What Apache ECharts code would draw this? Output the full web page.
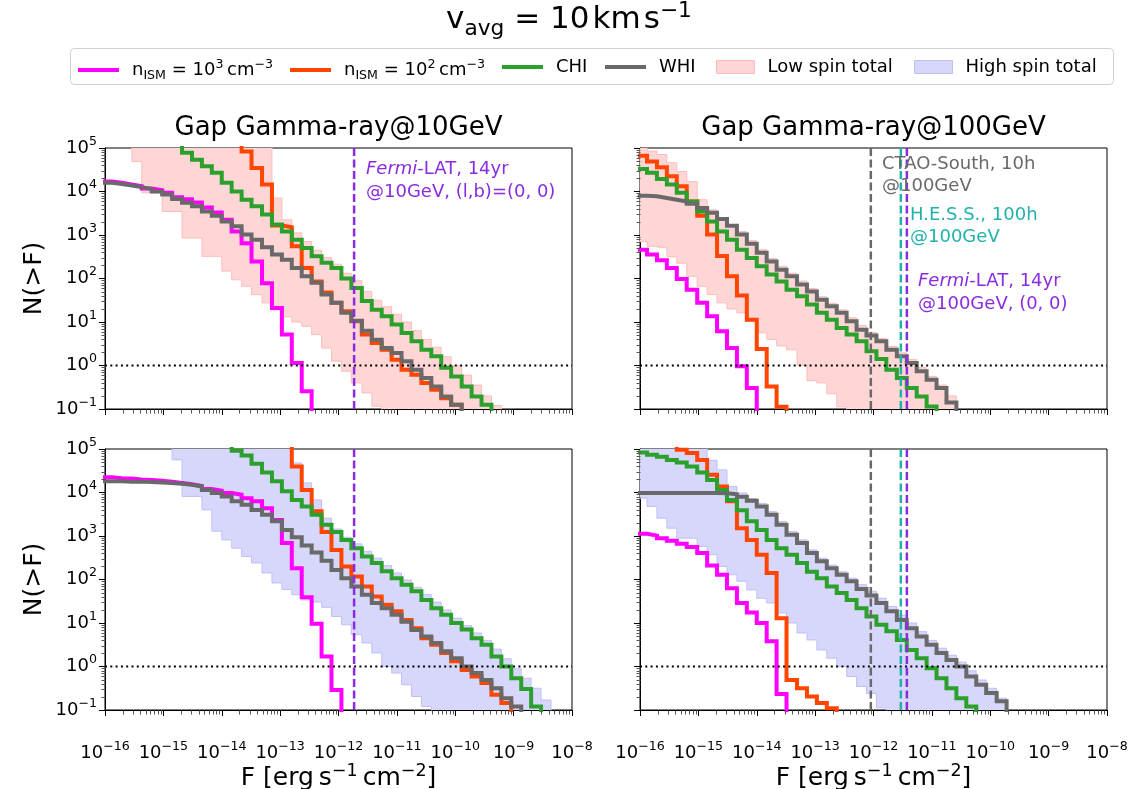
<!DOCTYPE html>
<html>
<head>
<meta charset="utf-8">
<title>Gap gamma-ray source counts</title>
<script src="https://cdn.jsdelivr.net/npm/echarts@6.0.0/dist/echarts.min.js"></script>
<style>
  html, body { margin: 0; padding: 0; background: #fff; }
  #chart { width: 1135px; height: 789px; }
</style>
</head>
<body>
<div id="chart"></div>
<script>
// log10 N(>F) levels used where a curve runs above / below the frame
const TOP = 6
const BOT = -2

// lower edge of every flux bin, log10 F [erg s^-1 cm^-2]
const FLUX_BIN_EXP = [-16.05, -15.88, -15.71, -15.54, -15.37, -15.20, -15.02, -14.85, -14.68, -14.51,
  -14.34, -14.17, -14.00, -13.83, -13.66, -13.49, -13.31, -13.14, -12.97, -12.80,
  -12.63, -12.46, -12.29, -12.12, -11.95, -11.78, -11.60, -11.43, -11.26, -11.09,
  -10.92, -10.75, -10.58, -10.41, -10.24, -10.07, -9.89, -9.72, -9.55, -9.38,
  -9.21, -9.04, -8.87, -8.70, -8.53, -8.36, -8.18, -8.01]

// all curves below are log10 N(>F), one value per bin, starting at bin START[...]

// Gap Gamma-ray @10GeV, low spin (top left)
const LOW10_START = { n3: 0, n2: 13, chi: 7, whi: 0, band: 3 }
const LOW10_N3 = [4.23, 4.20, 4.16, 4.12, 4.07, 4.03, 3.97, 3.87, 3.82, 3.75, 3.63, 3.52, 3.35, 3.08, 2.81, 2.39, 1.89, 1.32, 0.71, 0.06, -0.59, BOT]
const LOW10_N2 = [TOP, 4.92, 4.54, 4.16, 3.22, 3.18, 2.74, 2.24, 1.93, 1.68, 1.44, 1.25, 1.02, 0.71, 0.52, 0.36, 0.13, -0.10, -0.21, -0.40, -0.56, -0.75, -0.90, BOT]
const LOW10_CHI = [TOP, 4.89, 4.73, 4.58, 4.43, 4.20, 4.00, 3.81, 3.66, 3.47, 3.24, 3.08, 2.89, 2.70, 2.51, 2.36, 2.24, 2.00, 1.78, 1.48, 1.28, 1.13, 0.94, 0.75, 0.56, 0.36, 0.21, -0.05, -0.25, -0.48, -0.71, -0.90, BOT]
const LOW10_WHI = [4.20, 4.17, 4.14, 4.10, 4.06, 4.00, 3.93, 3.83, 3.74, 3.66, 3.54, 3.44, 3.31, 3.20, 3.01, 2.89, 2.72, 2.55, 2.43, 2.24, 2.05, 1.90, 1.63, 1.44, 1.21, 1.03, 0.80, 0.59, 0.40, 0.29, 0.10, -0.10, -0.29, -0.48, -0.71, -0.90, BOT]
const LOW10_LO = [4.69, 3.97, 3.97, 3.54, 3.54, 2.93, 2.93, 2.51, 2.51, 2.17, 1.97, 1.82, 1.63, 1.44, 1.28, 1.12, 1.00, 0.90, 0.71, 0.40, 0.10, -0.13, -0.40, -0.63, -0.94]
const LOW10_HI = [TOP, TOP, TOP, TOP, TOP, TOP, TOP, TOP, TOP, TOP, TOP, TOP, TOP, TOP,
  3.85, 3.35, 3.05, 2.85, 2.65, 2.48, 2.33, 2.12, 1.95, 1.70, 1.50, 1.35, 1.18, 1.00, 0.80, 0.60, 0.42, 0.20, 0.00, -0.22, -0.45, -0.70, -0.92]

// Gap Gamma-ray @100GeV, low spin (top right)
const LOW100_START = { n3: 0, n2: 0, chi: 0, whi: 0, band: 0 }
const LOW100_N3 = [2.66, 2.55, 2.42, 2.24, 1.99, 1.74, 1.44, 1.13, 0.79, 0.40, -0.02, -0.52, BOT]
const LOW100_N2 = [4.82, 4.69, 4.56, 4.35, 4.12, 3.77, 3.44, 3.01, 2.52, 2.05, 1.61, 1.05, 0.38, -0.48, -0.95, BOT]
const LOW100_CHI = [4.52, 4.43, 4.29, 4.16, 3.97, 3.77, 3.54, 3.31, 3.08, 2.89, 2.66, 2.47, 2.28, 2.09, 1.93, 1.74, 1.59, 1.40, 1.21, 1.05, 0.86, 0.71, 0.56, 0.33, 0.15, -0.10, -0.29, -0.52, -0.71, -0.94, BOT]
const LOW100_WHI = [3.90, 3.89, 3.85, 3.81, 3.77, 3.72, 3.62, 3.51, 3.37, 3.21, 3.01, 2.80, 2.59, 2.39, 2.20, 2.05, 1.86, 1.70, 1.51, 1.36, 1.21, 1.02, 0.82, 0.69, 0.56, 0.36, 0.21, 0.06, -0.13, -0.33, -0.52, -0.85, BOT]
const LOW100_LO = [2.85, 2.74, 2.70, 2.50, 2.35, 2.05, 1.82, 1.63, 1.44, 1.30, 1.21, 1.02, 0.75, 0.60, 0.45, 0.36, 0.00, -0.35, -0.40, -0.65, -0.95]
const LOW100_HI = [TOP, 4.93, 4.85, 4.66, 4.46, 4.23, 3.81, 3.58, 3.39, 3.20, 3.08, 2.87, 2.66, 2.46, 2.28, 2.12, 1.94, 1.77, 1.58, 1.43, 1.28, 1.10, 0.92, 0.76, 0.62, 0.44, 0.29, 0.14, -0.05, -0.25, -0.45, -0.70]

// Gap Gamma-ray @10GeV, high spin (bottom left)
const HIGH10_START = { n3: 0, n2: 18, chi: 12, whi: 0, band: 7 }
const HIGH10_N3 = [4.35, 4.33, 4.32, 4.30, 4.29, 4.27, 4.25, 4.22, 4.19, 4.15, 4.08, 4.04, 3.99, 3.95, 3.87, 3.80, 3.64, 3.37, 2.84, 2.26, 1.59, 0.98, 0.23, -0.54, BOT]
const HIGH10_N2 = [TOP, 4.60, 4.06, 3.57, 3.09, 2.68, 2.30, 2.07, 1.84, 1.61, 1.42, 1.27, 1.07, 0.88, 0.65, 0.50, 0.31, 0.12, -0.08, -0.23, -0.38, -0.65, -0.84, BOT]
const HIGH10_CHI = [TOP, 4.96, 4.85, 4.66, 4.46, 4.26, 4.03, 3.83, 3.68, 3.49, 3.26, 3.09, 2.91, 2.72, 2.53, 2.38, 2.19, 2.03, 1.88, 1.73, 1.53, 1.34, 1.19, 1.00, 0.85, 0.65, 0.50, 0.23, 0.00, -0.27, -0.52, -0.92, BOT]
const HIGH10_WHI = [4.26, 4.26, 4.25, 4.25, 4.24, 4.23, 4.22, 4.20, 4.18, 4.14, 4.06, 3.99, 3.91, 3.80, 3.72, 3.60, 3.49, 3.34, 3.14, 2.97, 2.78, 2.62, 2.43, 2.22, 2.03, 1.84, 1.65, 1.46, 1.34, 1.19, 1.03, 0.84, 0.69, 0.54, 0.35, 0.19, 0.00, -0.15, -0.31, -0.50, -0.73, -0.92, BOT]
const HIGH10_LO = [4.75, 3.91, 3.91, 3.60, 3.11, 2.91, 2.72, 2.53, 2.38, 2.15, 1.92, 1.77, 1.65, 1.53, 1.48, 1.36, 1.15, 0.96, 0.73, 0.54, 0.31, 0.00, -0.15, -0.42, -0.69, -0.92]
const HIGH10_HI = [TOP, TOP, TOP, TOP, TOP, TOP, TOP, TOP, TOP, TOP, TOP, TOP,
  4.68, 4.22, 3.83, 3.41, 3.16, 2.97, 2.82, 2.65, 2.49, 2.32, 2.15, 1.99, 1.82, 1.65, 1.48, 1.30, 1.11, 0.94, 0.77, 0.60, 0.40, 0.18, -0.05, -0.27, -0.50, -0.77]

// Gap Gamma-ray @100GeV, high spin (bottom right)
const HIGH100_START = { n3: 0, n2: 3, chi: 0, whi: 0, band: 0 }
const HIGH100_N3 = [3.05, 3.01, 2.95, 2.89, 2.82, 2.75, 2.61, 2.32, 2.11, 1.80, 1.46, 1.24, 1.00, 0.58, -0.63, BOT]
const HIGH100_N2 = [TOP, 4.98, 4.91, 4.75, 4.41, 4.14, 3.80, 3.18, 2.91, 2.57, 2.15, 1.11, -0.31, -0.50, -0.69, -0.84, -0.96, BOT]
const HIGH100_CHI = [4.92, 4.87, 4.82, 4.75, 4.69, 4.60, 4.46, 4.29, 4.06, 3.83, 3.59, 3.34, 3.14, 2.91, 2.72, 2.57, 2.38, 2.18, 2.03, 1.84, 1.69, 1.53, 1.34, 1.15, 0.96, 0.81, 0.61, 0.38, 0.19, -0.04, -0.27, -0.50, -0.73, -0.92, BOT]
const HIGH100_WHI = [3.99, 3.99, 3.99, 3.99, 3.99, 3.99, 3.99, 3.99, 3.98, 3.96, 3.90, 3.81, 3.68, 3.49, 3.26, 3.03, 2.84, 2.61, 2.42, 2.26, 2.11, 1.96, 1.78, 1.63, 1.46, 1.27, 1.07, 0.88, 0.69, 0.50, 0.31, 0.15, 0.00, -0.23, -0.42, -0.61, -0.80, BOT]
const HIGH100_LO = [3.87, 3.68, 3.41, 3.18, 2.95, 2.95, 2.76, 2.57, 2.30, 2.11, 1.96, 1.76, 1.57, 1.46, 1.23, 1.00, 0.77, 0.61, 0.38, 0.19, 0.00, -0.23, -0.46, -0.62, -0.95]
const HIGH100_HI = [TOP, TOP, TOP, TOP, TOP, TOP, TOP,
  4.74, 4.52, 4.14, 3.99, 3.86, 3.75, 3.56, 3.33, 3.10, 2.91, 2.68, 2.49, 2.33, 2.18, 2.03, 1.88, 1.73, 1.57, 1.38, 1.18, 1.00, 0.80, 0.60, 0.42, 0.26, 0.10, -0.10, -0.31, -0.50, -0.73]

// sensitivities [erg s^-1 cm^-2]
const SENS_10GEV = [1.85e-12]                     // Fermi-LAT 14yr
const SENS_100GEV = [9.0e-13, 2.94e-12, 3.73e-12] // CTAO-South 10h, H.E.S.S. 100h, Fermi-LAT 14yr
const N_REF = 1

const X_MIN = 1e-16, X_MAX = 1e-8
const Y_MIN = 0.1, Y_MAX = 1e5
const MINOR_MULT = [2, 3, 4, 5, 6, 7, 8, 9]

const FONT = 'DejaVu Sans'
const MAGENTA = '#ff00ff'
const ORANGE = '#ff4500'
const GREEN = '#2ca02c'
const GRAY = '#696969'
const PURPLE = '#8a2be2'
const TEAL = '#20b2aa'
const BAND_STYLE = {
  'Low spin total': { fill: '#ffd6d6', edge: '#ffbcbc' },
  'High spin total': { fill: '#d7d7fb', edge: '#bfbff6' }
}

const PANELS = [
  { start: LOW10_START, n3: LOW10_N3, n2: LOW10_N2, chi: LOW10_CHI, whi: LOW10_WHI, lo: LOW10_LO, hi: LOW10_HI,
    band: 'Low spin total', sens: SENS_10GEV, sensColors: [PURPLE] },
  { start: LOW100_START, n3: LOW100_N3, n2: LOW100_N2, chi: LOW100_CHI, whi: LOW100_WHI, lo: LOW100_LO, hi: LOW100_HI,
    band: 'Low spin total', sens: SENS_100GEV, sensColors: [GRAY, TEAL, PURPLE] },
  { start: HIGH10_START, n3: HIGH10_N3, n2: HIGH10_N2, chi: HIGH10_CHI, whi: HIGH10_WHI, lo: HIGH10_LO, hi: HIGH10_HI,
    band: 'High spin total', sens: SENS_10GEV, sensColors: [PURPLE] },
  { start: HIGH100_START, n3: HIGH100_N3, n2: HIGH100_N2, chi: HIGH100_CHI, whi: HIGH100_WHI, lo: HIGH100_LO, hi: HIGH100_HI,
    band: 'High spin total', sens: SENS_100GEV, sensColors: [GRAY, TEAL, PURPLE] }
]

// grid boxes [left, top]
const GRID_POS = [[105, 148], [640, 148], [105, 449], [640, 449]]
const GRID_W = 467
const GRID_H = 261

const pow10 = (e) => Math.pow(10, e)

function stepPoints(start, vals) {
  return vals.map((v, i) => [pow10(FLUX_BIN_EXP[start + i]), pow10(v)])
}

function bandBins(start, lo, hi) {
  return hi.map((h, i) => [
    pow10(FLUX_BIN_EXP[start + i]),
    pow10(FLUX_BIN_EXP[start + i + 1]),
    pow10(i < lo.length ? lo[i] : BOT),
    pow10(h)
  ])
}

function lowerEdge(start, lo) {
  const pts = stepPoints(start, lo.concat([BOT]))
  if (start > 0) pts.unshift([pow10(FLUX_BIN_EXP[start - 1]), pow10(TOP)])
  return pts
}

function renderBin(params, api) {
  const a = api.coord([api.value(0), api.value(3)])
  const b = api.coord([api.value(1), api.value(2)])
  const x0 = Math.round(a[0])
  const x1 = Math.round(b[0])
  return {
    type: 'rect',
    shape: { x: x0, y: a[1], width: x1 - x0, height: b[1] - a[1] },
    style: { fill: api.visual('color') }
  }
}

function minorTickItems() {
  const items = []
  for (let e = -16; e < -8; e++) MINOR_MULT.forEach(m => items.push([m * pow10(e), Y_MIN, 0]))
  for (let e = -1; e < 5; e++) MINOR_MULT.forEach(m => items.push([X_MIN, m * pow10(e), 1]))
  return items
}

function renderMinorTick(params, api) {
  const p = api.coord([api.value(0), api.value(1)])
  const yTick = api.value(2) === 1
  const x = Math.round(p[0]) + 0.5
  const y = Math.round(p[1]) + 0.5
  return {
    type: 'line',
    shape: yTick ? { x1: x - 4, y1: y, x2: x, y2: y } : { x1: x, y1: y, x2: x, y2: y + 4 },
    style: { stroke: '#555', lineWidth: 1 }
  }
}

function curve(name, color, g, start, vals) {
  return {
    type: 'line', name, xAxisIndex: g, yAxisIndex: g,
    data: stepPoints(start, vals), step: 'end', symbol: 'none', showSymbol: false,
    lineStyle: { color, width: 4, join: 'miter', cap: 'butt' },
    itemStyle: { color },
    emphasis: { disabled: true }, silent: true, z: 2
  }
}

function edgeLine(g, data, color) {
  return {
    type: 'line', xAxisIndex: g, yAxisIndex: g, data, step: 'end', symbol: 'none',
    lineStyle: { color, width: 1 }, emphasis: { disabled: true }, silent: true, z: 1
  }
}

function refLine(g, data, color, width, dash) {
  return {
    type: 'line', xAxisIndex: g, yAxisIndex: g, data, symbol: 'none',
    lineStyle: { color, width, type: dash, cap: 'butt' },
    emphasis: { disabled: true }, silent: true, z: 3
  }
}

const series = []
const MINOR_ITEMS = minorTickItems()
PANELS.forEach((p, g) => {
  const bs = BAND_STYLE[p.band]
  series.push({
    type: 'custom', name: p.band, xAxisIndex: g, yAxisIndex: g, clip: true, silent: true, z: 1,
    itemStyle: { color: bs.fill }, renderItem: renderBin,
    encode: { x: [0, 1], y: [2, 3] }, data: bandBins(p.start.band, p.lo, p.hi)
  })
  series.push(edgeLine(g, lowerEdge(p.start.band, p.lo), bs.edge))
  series.push(edgeLine(g, stepPoints(p.start.band, p.hi.concat([BOT])), bs.edge))
  series.push(curve('n3', MAGENTA, g, p.start.n3, p.n3))
  series.push(curve('n2', ORANGE, g, p.start.n2, p.n2))
  series.push(curve('CHI', GREEN, g, p.start.chi, p.chi))
  series.push(curve('WHI', GRAY, g, p.start.whi, p.whi))
  series.push(refLine(g, [[X_MIN, N_REF], [X_MAX, N_REF]], '#000', 2, [2, 3.3]))
  p.sens.forEach((f, i) => series.push(refLine(g, [[f, Y_MIN], [f, Y_MAX]], p.sensColors[i], 2.5, [8, 3.5])))
  series.push({
    type: 'custom', xAxisIndex: g, yAxisIndex: g, clip: false, silent: true, z: 3,
    renderItem: renderMinorTick, encode: { x: 0, y: 1 }, data: MINOR_ITEMS
  })
})

function powLabel(v) {
  const e = Math.round(Math.log10(v))
  return '{b|10}{s|' + (e < 0 ? '\u2212' : '') + Math.abs(e) + '}'
}

const TICK_RICH = {
  b: { fontFamily: FONT, fontSize: 18, lineHeight: 26, color: '#000' },
  s: { fontFamily: FONT, fontSize: 12.6, lineHeight: 13, verticalAlign: 'top', color: '#000' }
}
const NAME_RICH = {
  n: { fontFamily: FONT, fontSize: 25, lineHeight: 32, color: '#000' },
  s: { fontFamily: FONT, fontSize: 17.5, lineHeight: 17, verticalAlign: 'top', color: '#000' }
}

const xAxis = GRID_POS.map((pos, g) => ({
  type: 'log', logBase: 10, gridIndex: g, min: X_MIN, max: X_MAX, splitNumber: 8,
  axisLine: { show: true, onZero: false, lineStyle: { color: '#000', width: 1 } },
  axisTick: { show: true, inside: false, length: 6, lineStyle: { color: '#000', width: 1 } },
  axisLabel: { show: g >= 2, margin: 12, padding: [18, 0, 0, 0], formatter: powLabel, rich: TICK_RICH },
  splitLine: { show: false },
  name: g >= 2 ? '{n|F [erg\u2009s}{s|\u22121}{n|\u2009cm}{s|\u22122}{n|]}' : '',
  nameLocation: 'middle', nameGap: 44,
  nameTextStyle: { rich: NAME_RICH }
}))

const yAxis = GRID_POS.map((pos, g) => ({
  type: 'log', logBase: 10, gridIndex: g, min: Y_MIN, max: Y_MAX, splitNumber: 6,
  axisLine: { show: true, onZero: false, lineStyle: { color: '#000', width: 1 } },
  axisTick: { show: true, inside: false, length: 6, lineStyle: { color: '#000', width: 1 } },
  axisLabel: { show: g % 2 === 0, margin: 8, formatter: powLabel, rich: TICK_RICH },
  splitLine: { show: false },
  name: g % 2 === 0 ? 'N(>F)' : '',
  nameLocation: 'middle', nameGap: 58, nameRotate: 90,
  nameTextStyle: { fontFamily: FONT, fontSize: 25, lineHeight: 26, color: '#000' }
}))

const grid = GRID_POS.map(([left, top]) => ({
  left, top, width: GRID_W, height: GRID_H, containLabel: false, outerBoundsMode: 'none',
  show: true, borderColor: '#000', borderWidth: 1, backgroundColor: 'transparent'
}))

// legend: one legend per entry so each sits where the original does
const LEGEND_NAMES = ['n3', 'n2', 'CHI', 'WHI', 'Low spin total', 'High spin total']
const LEGEND_LEFT = [78, 290, 502, 605, 716, 914]
const LEGEND_TEXT = {
  n3: '{t|n}{sub|ISM}{t| = 10}{sup|3}{t|\u2009cm}{sup|\u22123}',
  n2: '{t|n}{sub|ISM}{t| = 10}{sup|2}{t|\u2009cm}{sup|\u22123}',
  CHI: '{t|CHI}',
  WHI: '{t|WHI}',
  'Low spin total': '{t|Low spin total}',
  'High spin total': '{t|High spin total}'
}
const LEGEND_RICH = {
  t: { fontFamily: FONT, fontSize: 18, lineHeight: 24, color: '#000' },
  sub: { fontFamily: FONT, fontSize: 12.6, lineHeight: 13, verticalAlign: 'bottom', color: '#000' },
  sup: { fontFamily: FONT, fontSize: 12.6, lineHeight: 13, verticalAlign: 'top', color: '#000' }
}
const legend = LEGEND_NAMES.map((name, i) => {
  const patch = BAND_STYLE[name]
  return {
    data: [patch
      ? { name, icon: 'rect', itemStyle: { color: patch.fill, borderColor: patch.edge, borderWidth: 1 } }
      : { name, icon: 'rect' }],
    left: LEGEND_LEFT[i], top: 58, padding: 0, selectedMode: false,
    itemWidth: patch ? 38 : 41, itemHeight: patch ? 13 : 4,
    formatter: (n) => LEGEND_TEXT[n],
    textStyle: { padding: [0, 0, 0, 8], rich: LEGEND_RICH }
  }
})

function richFont(size, color, extra) {
  return Object.assign({ fontFamily: FONT, fontSize: size, fill: color, color }, extra || {})
}

function annot(x, y, text, color) {
  return {
    type: 'text', x, y, silent: true, z: 10,
    style: {
      text, fill: color, fontFamily: FONT, fontSize: 18,
      align: 'left', textAlign: 'left', verticalAlign: 'middle', textVerticalAlign: 'middle',
      rich: { n: richFont(18, color), it: richFont(18, color, { fontStyle: 'italic' }) }
    }
  }
}

function centerText(x, y, text, size) {
  return {
    type: 'text', x, y, silent: true,
    style: {
      text, fill: '#000', fontFamily: FONT, fontSize: size,
      align: 'center', textAlign: 'center', verticalAlign: 'middle', textVerticalAlign: 'middle'
    }
  }
}

const graphic = [
  { type: 'rect', silent: true, z: -10, shape: { x: 70.5, y: 48.5, width: 1043, height: 36, r: 4 },
    style: { fill: '#fff', stroke: '#d0d0d0', lineWidth: 1 } },
  {
    type: 'text', x: 569, y: 20, silent: true,
    style: {
      text: '{n|v}{sub|avg}{n| = 10\u200akm\u200as}{sup|\u22121}',
      align: 'center', textAlign: 'center', verticalAlign: 'middle', textVerticalAlign: 'middle',
      rich: {
        n: richFont(31, '#000', { lineHeight: 40 }),
        sub: richFont(21.7, '#000', { lineHeight: 21, verticalAlign: 'bottom' }),
        sup: richFont(21.7, '#000', { lineHeight: 21, verticalAlign: 'top' })
      }
    }
  },
  centerText(338.5, 128, 'Gap Gamma-ray@10GeV', 26),
  centerText(873.5, 128, 'Gap Gamma-ray@100GeV', 26),
  annot(366, 169, '{it|Fermi}{n|-LAT, 14yr}', PURPLE),
  annot(366, 192, '{n|@10GeV, (l,b)=(0, 0)}', PURPLE),
  annot(882, 164, '{n|CTAO-South, 10h}', GRAY),
  annot(882, 186, '{n|@100GeV}', GRAY),
  annot(910, 215, '{n|H.E.S.S., 100h}', TEAL),
  annot(910, 237, '{n|@100GeV}', TEAL),
  annot(918, 281, '{it|Fermi}{n|-LAT, 14yr}', PURPLE),
  annot(918, 304, '{n|@100GeV, (0, 0)}', PURPLE)
]

const chart = echarts.init(document.getElementById('chart'))
chart.setOption({
  animation: false,
  backgroundColor: '#fff',
  textStyle: { fontFamily: FONT },
  grid, xAxis, yAxis, legend, graphic, series
})
</script>
</body>
</html>
